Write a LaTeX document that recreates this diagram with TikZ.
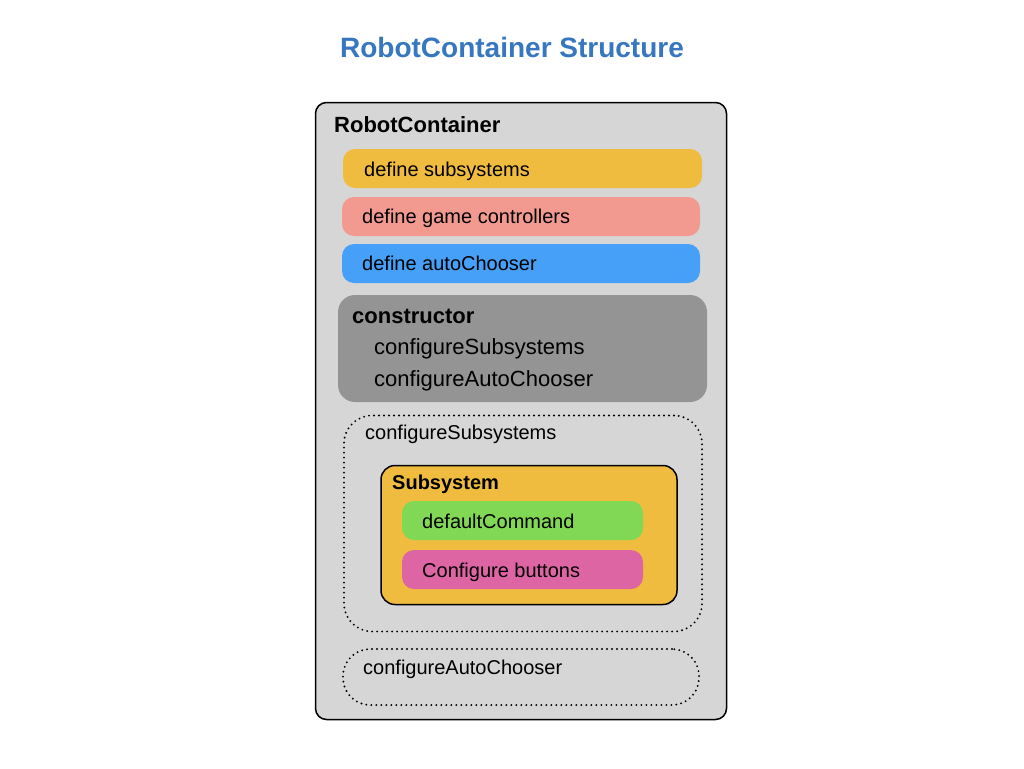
\documentclass[tikz,border=0pt]{standalone}
\usepackage{fontspec}
\setmainfont{Liberation Sans}
\definecolor{titleblue}{HTML}{3677C0}
\definecolor{panelgray}{HTML}{D6D6D6}
\definecolor{subyellow}{HTML}{F0BC40}
\definecolor{ctrlpink}{HTML}{F29A8F}
\definecolor{autoblue}{HTML}{47A0F8}
\definecolor{ctorgray}{HTML}{949494}
\definecolor{cmdgreen}{HTML}{80D855}
\definecolor{btnpink}{HTML}{DE65A4}
\tikzset{
  boxshape/.style={rectangle, anchor=north west, inner sep=0pt, outer sep=0pt},
  dotbox/.style={boxshape, draw=black, line width=2.1pt, dash pattern=on 0pt off 5pt, line cap=round},
  txt/.style={anchor=base west, inner sep=0pt, font=\fontsize{20}{24}\selectfont},
  bigtxt/.style={anchor=base west, inner sep=0pt, font=\fontsize{22}{26}\selectfont},
  bigbold/.style={anchor=base west, inner sep=0pt, font=\fontsize{22}{26}\selectfont\bfseries},
}
\begin{document}
\begin{tikzpicture}[x=1pt,y=-1pt]
\useasboundingbox (0,0) rectangle (1024,768);
\fill[white] (0,0) rectangle (1024,768);
% title
\node[anchor=base, inner sep=0pt, font=\fontsize{28}{32}\selectfont\bfseries, text=titleblue] (title) at (512,57) {RobotContainer Structure};
% outer panel
\node[boxshape, draw=black, line width=1.5pt, fill=panelgray, rounded corners=11pt, minimum width=411pt, minimum height=617pt] (outer) at (315.5,102.5) {};
\node[bigbold] (rclabel) at (334,132) {RobotContainer};
% define rows
\node[boxshape, fill=subyellow, rounded corners=12pt, minimum width=359pt, minimum height=39pt] (defsub) at (343,149) {};
\node[txt] (defsubt) at (364,176) {define subsystems};
\node[boxshape, fill=ctrlpink, rounded corners=12pt, minimum width=358pt, minimum height=39pt] (defctl) at (342,197) {};
\node[txt] (defctlt) at (362,223) {define game controllers};
\node[boxshape, fill=autoblue, rounded corners=12pt, minimum width=358pt, minimum height=39pt] (defauto) at (342,244) {};
\node[txt] (defautot) at (362,270.5) {define autoChooser};
% constructor
\node[boxshape, fill=ctorgray, rounded corners=17pt, minimum width=369pt, minimum height=107pt] (ctor) at (338,295) {};
\node[bigbold] (ctort) at (352,323) {constructor};
\node[bigtxt] (ctor1) at (374,354.5) {configureSubsystems};
\node[bigtxt] (ctor2) at (374,386) {configureAutoChooser};
% configureSubsystems dotted
\node[dotbox, rounded corners=28pt, minimum width=358pt, minimum height=216pt] (cfgsub) at (344,415.5) {};
\node[txt] (cfgsubt) at (365,439) {configureSubsystems};
% Subsystem
\node[boxshape, draw=black, line width=1.5pt, fill=subyellow, rounded corners=14pt, minimum width=296pt, minimum height=139pt] (subsys) at (381,465.5) {};
\node[anchor=base west, inner sep=0pt, font=\fontsize{20}{24}\selectfont\bfseries] (subsyst) at (392,489) {Subsystem};
\node[boxshape, fill=cmdgreen, rounded corners=12pt, minimum width=241pt, minimum height=39pt] (defcmd) at (402,501) {};
\node[txt] (defcmdt) at (422,528) {defaultCommand};
\node[boxshape, fill=btnpink, rounded corners=12pt, minimum width=241pt, minimum height=39pt] (btns) at (402,550) {};
\node[txt] (btnst) at (422,577) {Configure buttons};
% configureAutoChooser dotted
\node[dotbox, rounded corners=27pt, minimum width=356pt, minimum height=56pt] (cfgauto) at (343,649) {};
\node[txt] (cfgautot) at (363,674) {configureAutoChooser};
\end{tikzpicture}
\end{document}
